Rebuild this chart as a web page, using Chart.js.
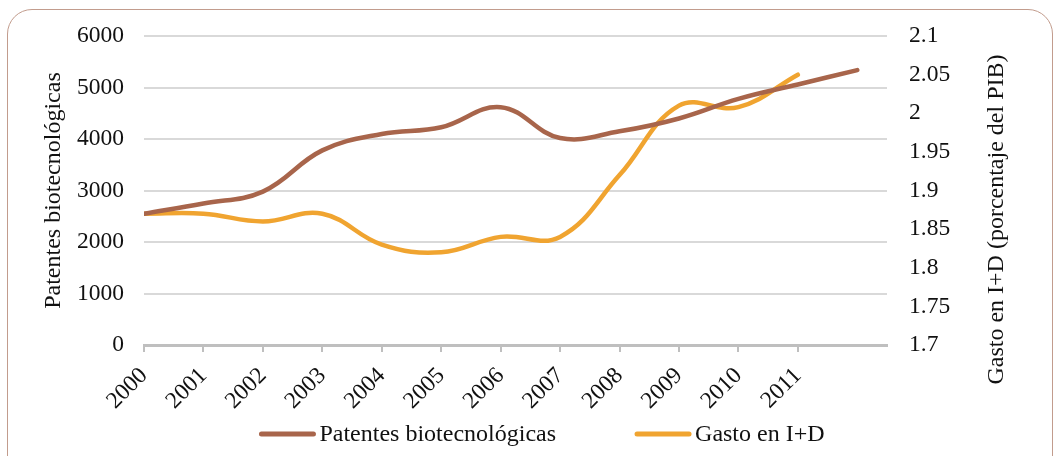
<!DOCTYPE html>
<html>
<head>
<meta charset="utf-8">
<script src="https://cdn.jsdelivr.net/npm/chart.js@4.4.1/dist/chart.umd.min.js"></script>
<style>
    html, body { margin: 0; padding: 0; background: #fff; overflow: hidden; }
    .wrap { position: relative; width: 1054px; height: 456px; }
    .frame {
        position: absolute; left: 7px; top: 9px; width: 1046px; height: 490px;
        box-sizing: border-box; border: 1.5px solid #c29c8d; border-radius: 25px;
    }
    #graph1 { position: absolute; left: 0; top: 0; }
</style>
</head>
<body>
<div class="wrap">
    <div class="frame"></div>
    <canvas id="graph1" width="1054" height="456"></canvas>
</div>
<script>
// years on the axis (the 13th point of the patents line has no label)
const years = ['2000', '2001', '2002', '2003', '2004', '2005', '2006', '2007', '2008', '2009', '2010', '2011']
const patentes = [2550, 2750, 2980, 3780, 4100, 4230, 4620, 4020, 4150, 4400, 4780, 5060, 5340]
const gasto = [1.87, 1.87, 1.86, 1.87, 1.83, 1.82, 1.84, 1.84, 1.92, 2.01, 2.008, 2.05]

const serif = 'Liberation Serif'
const ink = '#111'

// right axis title reads bottom to top, chart.js would draw it the other way
const rightTitle = {
    id: 'rightTitle',
    afterDraw(chart) {
        const sc = chart.scales.y1
        const ctx = chart.ctx
        ctx.save()
        ctx.translate(sc.left + 110, (sc.top + sc.bottom) / 2 + 29)
        ctx.rotate(-Math.PI / 2)
        ctx.font = '24px "' + serif + '"'
        ctx.fillStyle = ink
        ctx.textAlign = 'center'
        ctx.textBaseline = 'middle'
        ctx.fillText('Gasto en I+D (porcentaje del PIB)', 0, 0)
        ctx.restore()
    }
}

// legend like the excel one: line sample glued to its text, wide gap between entries
const lineLegend = {
    id: 'lineLegend',
    afterDraw(chart) {
        const ctx = chart.ctx
        const sample = 56, gap = 4, between = 79
        ctx.save()
        ctx.font = '24px "' + serif + '"'
        const sets = chart.data.datasets
        const widths = sets.map(ds => sample + gap + ctx.measureText(ds.label).width)
        const total = widths.reduce((a, b) => a + b, 0) + between * (sets.length - 1)
        let x = chart.width / 2 + 15 - total / 2
        const y = chart.height - 22
        sets.forEach((ds, i) => {
            ctx.strokeStyle = ds.borderColor
            ctx.lineWidth = ds.borderWidth + 0.5
            ctx.lineCap = 'round'
            ctx.beginPath()
            ctx.moveTo(x + 2, y)
            ctx.lineTo(x + sample - 2, y)
            ctx.stroke()
            ctx.fillStyle = ink
            ctx.textAlign = 'left'
            ctx.textBaseline = 'middle'
            ctx.fillText(ds.label, x + sample + gap, y + 1)
            x += widths[i] + between
        })
        ctx.restore()
    }
}

const data = {
    datasets: [{
        label: 'Patentes biotecnológicas',
        data: patentes.map((v, i) => ({x: i, y: v})),
        yAxisID: 'y',
        borderColor: '#a8654b',
        backgroundColor: '#a8654b',
        borderWidth: 4.5,
        borderCapStyle: 'round',
        tension: 0.4,
        pointRadius: 0
    }, {
        label: 'Gasto en I+D',
        data: gasto.map((v, i) => ({x: i, y: v})),
        yAxisID: 'y1',
        borderColor: '#f0a430',
        backgroundColor: '#f0a430',
        borderWidth: 4.5,
        borderCapStyle: 'round',
        tension: 0.4,
        pointRadius: 0
    }]
}

const config = {
    type: 'line',
    data: data,
    plugins: [rightTitle, lineLegend],
    options: {
        responsive: false,
        animation: false,
        layout: {padding: {left: 34, right: 0, top: 35, bottom: 41}},
        plugins: {
            tooltip: {enabled: false},
            legend: {display: false}
        },
        scales: {
            x: {
                type: 'linear',
                min: 0,
                max: 12.5,
                afterBuildTicks: (sc) => { sc.ticks = sc.ticks.filter(t => Number.isInteger(t.value)) },
                afterFit: (sc) => { sc.height = 70 },
                ticks: {
                    stepSize: 1,
                    minRotation: 45,
                    maxRotation: 45,
                    autoSkip: false,
                    padding: 10,
                    color: ink,
                    font: {family: serif, size: 23.5},
                    callback: (v) => years[v] || ''
                },
                grid: {drawOnChartArea: false, drawTicks: true, tickLength: 7, color: '#bfbfbf', lineWidth: 2},
                border: {display: true, color: '#bfbfbf', width: 3}
            },
            y: {
                position: 'left',
                min: 0,
                max: 6000,
                afterFit: (sc) => { sc.width = 110 },
                ticks: {
                    stepSize: 1000,
                    padding: 20,
                    color: ink,
                    font: {family: serif, size: 23.5},
                    callback: (v) => String(v)
                },
                grid: {color: '#d9d9d9', lineWidth: 2, drawTicks: false},
                border: {display: false},
                title: {
                    display: true,
                    text: 'Patentes biotecnológicas',
                    color: ink,
                    padding: {top: 5, bottom: 0},
                    font: {family: serif, size: 24}
                }
            },
            y1: {
                position: 'right',
                min: 1.7,
                max: 2.1,
                afterFit: (sc) => { sc.width = 167 },
                ticks: {
                    stepSize: 0.05,
                    padding: 22,
                    color: ink,
                    font: {family: serif, size: 23.5},
                    callback: (v) => String(Number(v.toFixed(2)))
                },
                grid: {drawOnChartArea: false, drawTicks: false},
                border: {display: false}
            }
        }
    }
}

const myChart = new Chart(document.querySelector('#graph1'), config)
</script>
</body>
</html>
